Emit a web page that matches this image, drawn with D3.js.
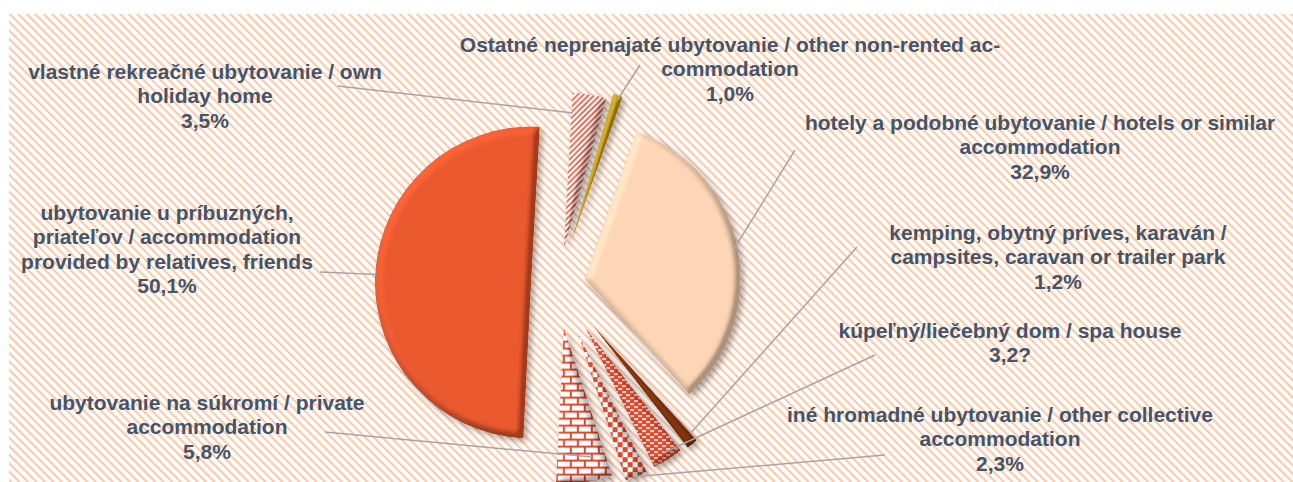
<!DOCTYPE html>
<html>
<head>
<meta charset="utf-8">
<script src="https://cdn.jsdelivr.net/npm/d3@7"></script>
<style>
  body { margin: 0; background: #fff; }
  text { font-family: "Liberation Sans", Arial, sans-serif; font-weight: bold; }
</style>
</head>
<body>
<script>
// data, clockwise from the top
var categories = [
  'vlastné rekreačné ubytovanie / own holiday home',
  'Ostatné neprenajaté ubytovanie / other non-rented accommodation',
  'hotely a podobné ubytovanie / hotels or similar accommodation',
  'kemping, obytný príves, karaván / campsites, caravan or trailer park',
  'kúpeľný/liečebný dom / spa house',
  'iné hromadné ubytovanie / other collective accommodation',
  'ubytovanie na súkromí / private accommodation',
  'ubytovanie u príbuzných, priateľov / accommodation provided by relatives, friends'
];
var values = [3.5, 1.0, 32.9, 1.2, 3.2, 2.3, 5.8, 50.1];
var valueLabels = ['3,5%', '1,0%', '32,9%', '1,2%', '3,2?', '2,3%', '5,8%', '50,1%'];
var labelLines = [
  ['vlastné rekreačné ubytovanie / own', 'holiday home'],
  ['Ostatné neprenajaté ubytovanie / other non-rented ac-', 'commodation'],
  ['hotely a podobné ubytovanie / hotels or similar', 'accommodation'],
  ['kemping, obytný príves, karaván /', 'campsites, caravan or trailer park'],
  ['kúpeľný/liečebný dom / spa house'],
  ['iné hromadné ubytovanie / other collective', 'accommodation'],
  ['ubytovanie na súkromí / private', 'accommodation'],
  ['ubytovanie u príbuzných,', 'priateľov / accommodation', 'provided by relatives, friends']
];

// styles
var fills = ['url(#stripes)', '#c9a227', '#fdd6b6', '#86360f', 'url(#dashes)', 'url(#checker)', 'url(#bricks)', '#ea5a30'];
var explode = [36, 42, 27, 53, 51, 52, 44, 27];
var labelPos = [[205, 79], [730, 52], [1040, 130], [1058, 240], [1010, 338], [1000, 422], [207, 410], [167, 220]];
// leader: start x, start y, fraction of slice angle, fraction of radius
var leaders = [[338, 86, 0.05, 0.87], [640, 65, 0.6, 0.97], [795, 150, 0.5, 0.98], [857, 247, 0.0, 0.94],
               [875, 355, 0.5, 0.95], [885, 455, 0.5, 1.0], [325, 432, 0.27, 0.85], [320, 272, 0.5, 0.99]];

var width = 1293, height = 482;
var cx = 558, cy = 284, radius = 156;
var start = 3.2 * Math.PI / 180;
var lineH = 24.3;

var svg = d3.select('body').append('svg')
    .attr('width', width)
    .attr('height', height);

var defs = svg.append('defs');

var bg = defs.append('pattern').attr('id', 'bgHatch')
    .attr('patternUnits', 'userSpaceOnUse')
    .attr('width', 6).attr('height', 6)
    .attr('patternTransform', 'rotate(45)');
bg.append('rect').attr('width', 6).attr('height', 6).attr('fill', '#fff');
bg.append('line').attr('x1', 0).attr('x2', 6).attr('y1', 3).attr('y2', 3)
    .attr('stroke', '#fccaa9').attr('stroke-width', 2.2);

var st = defs.append('pattern').attr('id', 'stripes')
    .attr('patternUnits', 'userSpaceOnUse')
    .attr('width', 4).attr('height', 4)
    .attr('patternTransform', 'rotate(45)');
st.append('rect').attr('width', 4).attr('height', 4).attr('fill', '#fff');
st.append('line').attr('x1', 1).attr('x2', 1).attr('y1', 0).attr('y2', 4)
    .attr('stroke', '#e2482a').attr('stroke-width', 1.6);

var br = defs.append('pattern').attr('id', 'bricks')
    .attr('patternUnits', 'userSpaceOnUse')
    .attr('width', 14).attr('height', 14);
br.append('rect').attr('width', 14).attr('height', 14).attr('fill', '#e2482a');
br.append('rect').attr('x', 1).attr('y', 1).attr('width', 12).attr('height', 5).attr('fill', '#fff');
br.append('rect').attr('x', -6).attr('y', 8).attr('width', 12).attr('height', 5).attr('fill', '#fff');
br.append('rect').attr('x', 8).attr('y', 8).attr('width', 12).attr('height', 5).attr('fill', '#fff');

var ck = defs.append('pattern').attr('id', 'checker')
    .attr('patternUnits', 'userSpaceOnUse')
    .attr('width', 10).attr('height', 10);
ck.append('rect').attr('width', 10).attr('height', 10).attr('fill', '#fff');
ck.append('rect').attr('width', 5).attr('height', 5).attr('fill', '#e2482a');
ck.append('rect').attr('x', 5).attr('y', 5).attr('width', 5).attr('height', 5).attr('fill', '#e2482a');

var ds = defs.append('pattern').attr('id', 'dashes')
    .attr('patternUnits', 'userSpaceOnUse')
    .attr('width', 8).attr('height', 6);
ds.append('rect').attr('width', 8).attr('height', 6).attr('fill', '#e2482a');
ds.append('rect').attr('x', 1).attr('y', 1).attr('width', 4).attr('height', 1.6).attr('fill', '#fff');
ds.append('rect').attr('x', 5).attr('y', 4).attr('width', 4).attr('height', 1.6).attr('fill', '#fff');
ds.append('rect').attr('x', -3).attr('y', 4).attr('width', 4).attr('height', 1.6).attr('fill', '#fff');

// bevel + shadow
var f = defs.append('filter').attr('id', 'bevel')
    .attr('x', '-30%').attr('y', '-30%').attr('width', '160%').attr('height', '160%');
f.append('feGaussianBlur').attr('in', 'SourceAlpha').attr('stdDeviation', 3.5).attr('result', 'b');
f.append('feDiffuseLighting').attr('in', 'b').attr('surfaceScale', 9)
    .attr('diffuseConstant', 1).attr('lighting-color', '#fff').attr('result', 'd')
  .append('feDistantLight').attr('azimuth', 225).attr('elevation', 45);
f.append('feComposite').attr('in', 'd').attr('in2', 'SourceGraphic')
    .attr('operator', 'arithmetic').attr('k1', 0.8).attr('k2', 0).attr('k3', 0.43).attr('k4', 0)
    .attr('result', 'lit');
f.append('feComposite').attr('in', 'lit').attr('in2', 'SourceAlpha').attr('operator', 'in').attr('result', 'litc');
f.append('feGaussianBlur').attr('in', 'SourceAlpha').attr('stdDeviation', 3).attr('result', 'sb');
f.append('feOffset').attr('in', 'sb').attr('dx', 3).attr('dy', 3).attr('result', 'so');
f.append('feFlood').attr('flood-color', '#000').attr('flood-opacity', 0.35).attr('result', 'fc');
f.append('feComposite').attr('in', 'fc').attr('in2', 'so').attr('operator', 'in').attr('result', 'shadow');
var m = f.append('feMerge');
m.append('feMergeNode').attr('in', 'shadow');
m.append('feMergeNode').attr('in', 'litc');

svg.append('rect')
    .attr('x', 9).attr('y', 14)
    .attr('width', width - 9).attr('height', height - 14)
    .attr('fill', 'url(#bgHatch)');

var pie = d3.pie().sort(null).value(function(d) { return d; })
    .startAngle(start).endAngle(start + 2 * Math.PI);
var arcs = pie(values);
var arc = d3.arc().innerRadius(0).outerRadius(radius);

function polar(a, r) { return [r * Math.sin(a), -r * Math.cos(a)]; }
function tip(d, i) {
  var p = polar((d.startAngle + d.endAngle) / 2, explode[i]);
  return [cx + p[0], cy + p[1]];
}

svg.selectAll('path.slice')
    .data(arcs)
    .enter().append('path')
    .attr('class', 'slice')
    .attr('d', arc)
    .attr('fill', function(d, i) { return fills[i]; })
    .attr('filter', 'url(#bevel)')
    .attr('transform', function(d, i) { var t = tip(d, i); return 'translate(' + t[0] + ',' + t[1] + ')'; });

svg.selectAll('line.leader')
    .data(arcs)
    .enter().append('line')
    .attr('class', 'leader')
    .attr('x1', function(d, i) { return leaders[i][0]; })
    .attr('y1', function(d, i) { return leaders[i][1]; })
    .attr('x2', function(d, i) {
      var a = d.startAngle + (d.endAngle - d.startAngle) * leaders[i][2];
      return tip(d, i)[0] + polar(a, radius * leaders[i][3])[0];
    })
    .attr('y2', function(d, i) {
      var a = d.startAngle + (d.endAngle - d.startAngle) * leaders[i][2];
      return tip(d, i)[1] + polar(a, radius * leaders[i][3])[1];
    })
    .attr('stroke', '#a5a5a5')
    .attr('stroke-width', 1.5);

var labels = svg.selectAll('text.label')
    .data(categories)
    .enter().append('text')
    .attr('class', 'label')
    .attr('text-anchor', 'middle')
    .attr('font-size', 21)
    .attr('fill', '#44546a')
    .attr('x', function(d, i) { return labelPos[i][0]; })
    .attr('y', function(d, i) { return labelPos[i][1]; });

labels.each(function(d, i) {
  var t = d3.select(this);
  labelLines[i].concat([valueLabels[i]]).forEach(function(s, j) {
    t.append('tspan')
      .attr('x', labelPos[i][0])
      .attr('y', labelPos[i][1] + j * lineH)
      .text(s);
  });
});
</script>
</body>
</html>
